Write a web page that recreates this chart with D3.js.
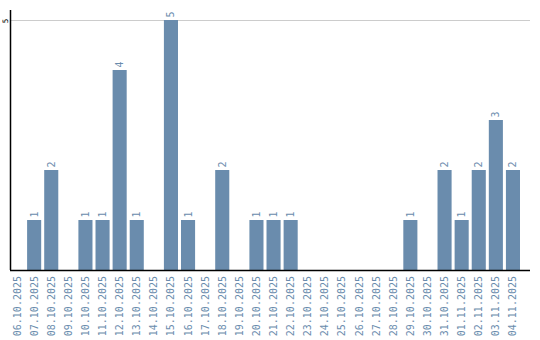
<!DOCTYPE html>
<html>
<head>
<meta charset="utf-8">
<script src="https://cdn.jsdelivr.net/npm/d3@7"></script>
<style>
  body { margin: 0; background: #fff; }
  svg text { font-family: "DejaVu Sans Mono", monospace; }
</style>
</head>
<body>
<div id="chart"></div>
<script>
var dates = ["06.10.2025", "07.10.2025", "08.10.2025", "09.10.2025", "10.10.2025",
    "11.10.2025", "12.10.2025", "13.10.2025", "14.10.2025", "15.10.2025",
    "16.10.2025", "17.10.2025", "18.10.2025", "19.10.2025", "20.10.2025",
    "21.10.2025", "22.10.2025", "23.10.2025", "24.10.2025", "25.10.2025",
    "26.10.2025", "27.10.2025", "28.10.2025", "29.10.2025", "30.10.2025",
    "31.10.2025", "01.11.2025", "02.11.2025", "03.11.2025", "04.11.2025"];
var counts = [0, 1, 2, 0, 1, 1, 4, 1, 0, 5, 1, 0, 2, 0, 1, 1, 1, 0, 0, 0, 0, 0, 0, 1, 0, 2, 1, 2, 3, 2];
var yTicks = [5];

var width = 540, height = 340;
var margin = {top: 10, right: 10, bottom: 70, left: 10};
var barColor = "#6a8cad";

var rows = dates.map(function (d, i) {
    return {date: d, count: counts[i]};
});

var svg = d3.select("#chart").append("svg")
    .attr("width", width)
    .attr("height", height);

var xScale = d3.scaleBand()
    .domain(dates)
    .range([margin.left, margin.left + 17 * dates.length])
    .paddingInner(3 / 17)
    .paddingOuter(0)
    .align(0);

var yScale = d3.scaleLinear()
    .domain([0, 5.2])
    .range([height - margin.bottom, margin.top]);

// grid line
svg.selectAll("line.grid")
    .data(yTicks)
    .enter().append("line")
    .attr("class", "grid")
    .attr("x1", margin.left)
    .attr("x2", width - margin.right)
    .attr("y1", function (d) { return Math.round(yScale(d)) + 0.5; })
    .attr("y2", function (d) { return Math.round(yScale(d)) + 0.5; })
    .attr("stroke", "#cccccc")
    .attr("stroke-width", 1);

svg.selectAll("text.ytick")
    .data(yTicks)
    .enter().append("text")
    .attr("class", "ytick")
    .attr("transform", function (d) { return "translate(7.5," + (yScale(d) + 1) + ") rotate(-90)"; })
    .attr("text-anchor", "middle")
    .style("font-size", "7.5px")
    .attr("fill", "#000")
    .text(function (d) { return d; });

// bars
svg.selectAll("rect.bar")
    .data(rows)
    .enter().append("rect")
    .attr("class", "bar")
    .attr("x", function (d) { return xScale(d.date); })
    .attr("width", xScale.bandwidth())
    .attr("y", function (d) { return yScale(d.count); })
    .attr("height", function (d) { return yScale(0) - yScale(d.count); })
    .attr("fill", barColor);

// value labels
svg.selectAll("text.val")
    .data(rows.filter(function (d) { return d.count > 0; }))
    .enter().append("text")
    .attr("class", "val")
    .attr("transform", function (d) {
        var cx = xScale(d.date) + xScale.bandwidth() / 2 + 3.5;
        return "translate(" + cx + "," + (yScale(d.count) - 2.5) + ") rotate(-90)";
    })
    .style("font-size", "10px")
    .attr("fill", barColor)
    .text(function (d) { return d.count; });

// axes lines
svg.append("line")
    .attr("x1", margin.left + 0.5).attr("x2", margin.left + 0.5)
    .attr("y1", margin.top).attr("y2", yScale(0))
    .attr("stroke", "#000").attr("stroke-width", 1.5);

svg.append("line")
    .attr("x1", margin.left).attr("x2", width - margin.right)
    .attr("y1", yScale(0) + 0.5).attr("y2", yScale(0) + 0.5)
    .attr("stroke", "#000").attr("stroke-width", 1.5);

// x tick labels
svg.selectAll("text.xlab")
    .data(dates)
    .enter().append("text")
    .attr("class", "xlab")
    .attr("transform", function (d) {
        var cx = xScale(d) + xScale.bandwidth() / 2 + 3.5;
        return "translate(" + cx + "," + (yScale(0) + 6) + ") rotate(-90)";
    })
    .attr("text-anchor", "end")
    .style("font-size", "10px")
    .attr("fill", barColor)
    .text(function (d) { return d; });
</script>
</body>
</html>
